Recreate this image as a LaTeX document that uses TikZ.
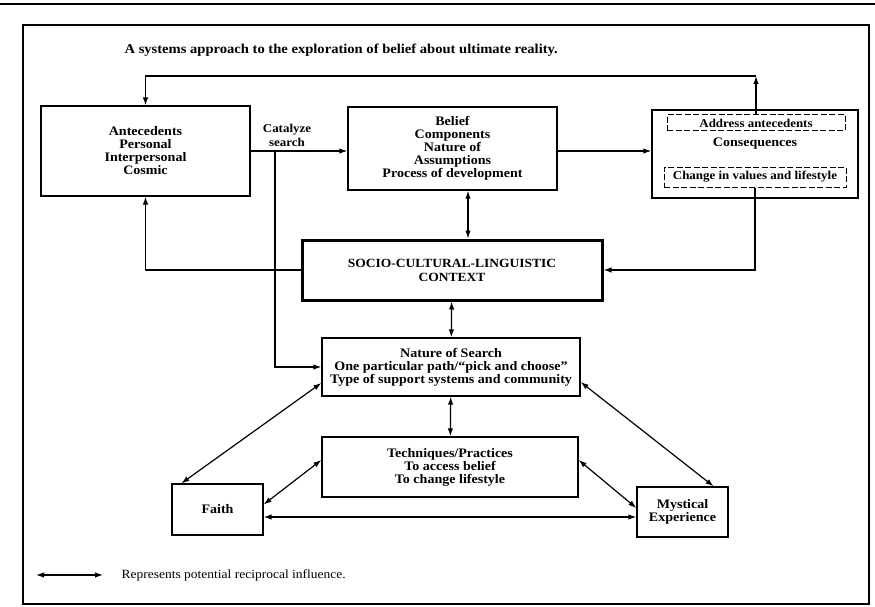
\documentclass[tikz,border=0pt]{standalone}
\usepackage{fontspec}
\setmainfont{Liberation Serif}[FakeStretch=1.08]
\usepackage{tikz}
\usetikzlibrary{graphs,arrows.meta}
\tikzset{
    block/.style ={
        shape=rectangle,
        draw=black,
        line width=1.3pt,
        align=center,
        inner sep=2pt,
        font=\fontsize{13}{13}\selectfont\bfseries
    },
    context/.style ={
        block,
        line width=3pt,
        font=\fontsize{12.5}{14}\selectfont\bfseries
    },
    dashbox/.style ={
        shape=rectangle,
        draw=black,
        dash pattern=on 6pt off 2.5pt,
        line width=1pt,
        inner sep=1pt,
        font=\fontsize{12}{13}\selectfont\bfseries
    },
    note/.style ={
        align=center,
        inner sep=1pt,
        font=\fontsize{13}{13.5}\selectfont\bfseries
    }
}

\begin{document}
\begin{tikzpicture}[x=1pt,y=-1pt,>={Latex[length=8pt,width=5.5pt]},line width=1.2pt]
    \useasboundingbox (0,0) rectangle (875,607);
    \draw[line width=1.5pt] (0,4) -- (875,4);
    \draw[line width=1.6pt] (23,25) rectangle (869,604);
    \node[note,anchor=west,font=\fontsize{13.5}{14}\selectfont\bfseries] (title) at(123,50) {A systems approach to the exploration of belief about ultimate reality.};
    \node[block,minimum width=209pt,minimum height=90pt] (ante) at(145.5,151) {Antecedents\\Personal\\Interpersonal\\Cosmic};
    \node[block,minimum width=209pt,minimum height=83pt] (belief) at(452.5,148.5) {Belief\\Components\\Nature of\\Assumptions\\Process of development};
    \node[block,minimum width=206pt,minimum height=88pt] (cons) at(755,154) {};
    \node[dashbox,minimum width=178pt,minimum height=16pt] (addr) at(756,123) {Address antecedents};
    \node[note] (conseq) at(755,144) {Consequences};
    \node[dashbox,minimum width=182pt,minimum height=20pt] (change) at(755,177) {Change in values and lifestyle};
    \node[context,minimum width=300pt,minimum height=60pt] (ctx) at(452,270) {SOCIO-CULTURAL-LINGUISTIC\\CONTEXT};
    \node[block,minimum width=258pt,minimum height=58pt] (search) at(451,367) {Nature of Search\\One particular path/``pick and choose''\\Type of support systems and community};
    \node[block,minimum width=256pt,minimum height=60pt] (tech) at(450,467) {Techniques/Practices\\To access belief\\To change lifestyle};
    \node[block,minimum width=91pt,minimum height=51pt] (faith) at(217.5,509.5) {Faith};
    \node[block,minimum width=91pt,minimum height=50pt] (myst) at(682.5,512) {Mystical\\Experience};
    \node[note,font=\fontsize{12}{14}\selectfont\bfseries] (catlabel) at(287,135) {Catalyze\\search};
    \coordinate (fbL) at(145.5,76);
    \coordinate (cat) at(275,151);
    \coordinate (keyL) at(36,575);
    \coordinate (keyR) at(103,575);
    \node[note,anchor=west,font=\fontsize{12.5}{13.5}\selectfont] (key) at(120,575) {Represents potential reciprocal influence.};
    % feedback loop over the top
    \draw[->] (addr.north) -- (addr.north |- fbL);
    \draw[->] (addr.north |- fbL) -- (fbL) -- (ante.north);
    % main row
    \draw[->] (ante.east) -- (ante.east -| belief.west);
    \draw[->] (ante.east -| belief.east) -- (ante.east -| cons.west);
    \draw[->] (cat) |- (search.west);
    \draw[->] (change.south) |- (ctx.east);
    \draw[->] (ctx.west) -| (ante.south);
    % reciprocal influences
    \draw[<->] ([xshift=15.5pt]belief.south) -- ([xshift=15.5pt]belief.south |- ctx.north);
    \graph{
        (ctx) <-> (search) <-> (tech);
    };
    \draw[<->] ([yshift=-16pt]search.west) -- ([xshift=10pt]faith.north west);
    \draw[<->] ([yshift=-15pt]search.east) -- ([xshift=-15pt]myst.north east);
    \draw[<->] ([yshift=7pt]tech.west) -- ([yshift=5pt]faith.east);
    \draw[<->] ([yshift=7pt]tech.east) -- ([yshift=4pt]myst.west);
    \draw[<->] ([yshift=-7.5pt]faith.east) -- ([yshift=-7.5pt]faith.east -| myst.west);
    \draw[<->] (keyL) -- (keyR);
\end{tikzpicture}
\end{document}
